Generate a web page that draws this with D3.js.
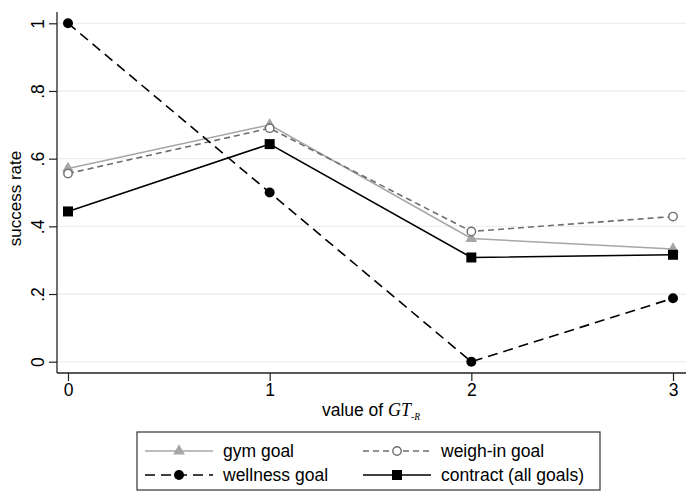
<!DOCTYPE html>
<html>
<head>
<meta charset="utf-8">
<script src="https://cdn.jsdelivr.net/npm/d3@7"></script>
<style>
  body { margin: 0; background: #fff; }
  svg { display: block; font-family: "Liberation Sans", Arial, Helvetica, sans-serif; }
</style>
</head>
<body>
<div id="chart"></div>
<script>
// values
const xValues = [0, 1, 2, 3];
const gymGoal = [0.571, 0.700, 0.364, 0.333];
const weighInGoal = [0.556, 0.690, 0.385, 0.429];
const wellnessGoal = [1.0, 0.5, 0.0, 0.1875];
const contractAll = [0.444, 0.643, 0.308, 0.316];
const yTicks = [0, 0.2, 0.4, 0.6, 0.8, 1];
const yTickLabels = ['0', '.2', '.4', '.6', '.8', '1'];

const width = 694, height = 491;

const series = [
    { name: 'gym goal', values: gymGoal, color: '#a6a6a6', dash: null, marker: 'triangle' },
    { name: 'weigh-in goal', values: weighInGoal, color: '#6e6e6e', dash: '6,4', marker: 'hollow' },
    { name: 'wellness goal', values: wellnessGoal, color: '#000', dash: '10,6', marker: 'circle' },
    { name: 'contract (all goals)', values: contractAll, color: '#000', dash: null, marker: 'square' }
];

const svg = d3.select('#chart').append('svg')
    .attr('width', width)
    .attr('height', height);

// plot region
const plot = { left: 57, right: 686, top: 12, bottom: 373 };

const x = d3.scaleLinear().domain([0, 3]).range([68, 673]);
const y = d3.scaleLinear().domain([0, 1]).range([361.7, 23.3]);

// gridlines
svg.append('g')
    .selectAll('line')
    .data(yTicks)
    .join('line')
    .attr('x1', plot.left).attr('x2', plot.right)
    .attr('y1', d => y(d)).attr('y2', d => y(d))
    .attr('stroke', '#e8f0f2')
    .attr('stroke-width', 1.3);

// y axis
const yAxis = svg.append('g')
    .attr('transform', `translate(${plot.left},0)`)
    .call(d3.axisLeft(y).tickValues(yTicks).tickSize(8).tickFormat((d, i) => yTickLabels[i]));
yAxis.select('.domain').attr('d', `M0,${plot.top}V${plot.bottom}`).attr('stroke', '#222').attr('stroke-width', 1.3);
yAxis.selectAll('.tick line').attr('stroke', '#222').attr('stroke-width', 1.2);
yAxis.selectAll('.tick text')
    .attr('font-size', 17.5)
    .attr('fill', '#000')
    .attr('text-anchor', 'middle')
    .attr('x', 0)
    .attr('dy', 0)
    .attr('transform', 'translate(-19,0) rotate(-90)')
    .attr('dominant-baseline', 'central');

// x axis
const xAxis = svg.append('g')
    .attr('transform', `translate(0,${plot.bottom})`)
    .call(d3.axisBottom(x).tickValues(xValues).tickSize(8).tickFormat(d3.format('d')));
xAxis.select('.domain').attr('d', `M${plot.left},0H${plot.right}`).attr('stroke', '#222').attr('stroke-width', 1.3);
xAxis.selectAll('.tick line').attr('stroke', '#222').attr('stroke-width', 1.2);
xAxis.selectAll('.tick text')
    .attr('font-size', 17.5)
    .attr('fill', '#000')
    .attr('y', 11)
    .attr('dy', '0.71em');

// axis titles
svg.append('text')
    .attr('transform', `translate(21,${(plot.top + plot.bottom) / 2 + 6}) rotate(-90)`)
    .attr('text-anchor', 'middle')
    .attr('font-size', 17)
    .text('success rate');

const xTitle = svg.append('text')
    .attr('x', 371)
    .attr('y', 416)
    .attr('text-anchor', 'middle')
    .attr('font-size', 17.5);
xTitle.append('tspan').text('value of ');
xTitle.append('tspan')
    .attr('font-family', '"Liberation Serif", "Times New Roman", serif')
    .attr('font-style', 'italic')
    .attr('font-size', 18)
    .text('GT');
xTitle.append('tspan')
    .attr('font-family', '"Liberation Serif", "Times New Roman", serif')
    .attr('font-style', 'italic')
    .attr('font-size', 9.5)
    .attr('dy', 4)
    .text('-R');

// marker drawing
function drawMarker(g, type, color, cx, cy) {
    if (type === 'triangle') {
        g.append('path')
            .attr('d', d3.symbol(d3.symbolTriangle, 60)())
            .attr('transform', `translate(${cx},${cy})`)
            .attr('fill', color);
    } else if (type === 'hollow') {
        g.append('circle')
            .attr('cx', cx).attr('cy', cy).attr('r', 4.2)
            .attr('fill', '#fff')
            .attr('stroke', color)
            .attr('stroke-width', 1.4);
    } else if (type === 'circle') {
        g.append('circle')
            .attr('cx', cx).attr('cy', cy).attr('r', 5)
            .attr('fill', color);
    } else if (type === 'square') {
        g.append('rect')
            .attr('x', cx - 5).attr('y', cy - 5)
            .attr('width', 10).attr('height', 10)
            .attr('fill', color);
    }
}

// series lines and markers
const line = d3.line().x((d, i) => x(xValues[i])).y(d => y(d));
const seriesGroup = svg.append('g');
series.forEach(s => {
    seriesGroup.append('path')
        .datum(s.values)
        .attr('d', line)
        .attr('fill', 'none')
        .attr('stroke', s.color)
        .attr('stroke-width', 1.6)
        .attr('stroke-dasharray', s.dash);
});
series.forEach(s => {
    const g = seriesGroup.append('g');
    s.values.forEach((v, i) => drawMarker(g, s.marker, s.color, x(xValues[i]), y(v)));
});

// legend
const legend = svg.append('g');
legend.append('rect')
    .attr('x', 137).attr('y', 432)
    .attr('width', 463).attr('height', 58)
    .attr('fill', '#fff')
    .attr('stroke', '#333')
    .attr('stroke-width', 1.2);

const legendPos = [
    { x: 145, y: 451 },
    { x: 363, y: 451 },
    { x: 145, y: 475 },
    { x: 363, y: 475 }
];
series.forEach((s, i) => {
    const p = legendPos[i];
    const g = legend.append('g');
    g.append('line')
        .attr('x1', p.x).attr('x2', p.x + 68)
        .attr('y1', p.y).attr('y2', p.y)
        .attr('stroke', s.color)
        .attr('stroke-width', 1.6)
        .attr('stroke-dasharray', s.dash);
    drawMarker(g, s.marker, s.color, p.x + 34, p.y);
    g.append('text')
        .attr('x', p.x + 78)
        .attr('y', p.y)
        .attr('dy', '0.35em')
        .attr('font-size', 17.5)
        .text(s.name);
});
</script>
</body>
</html>
